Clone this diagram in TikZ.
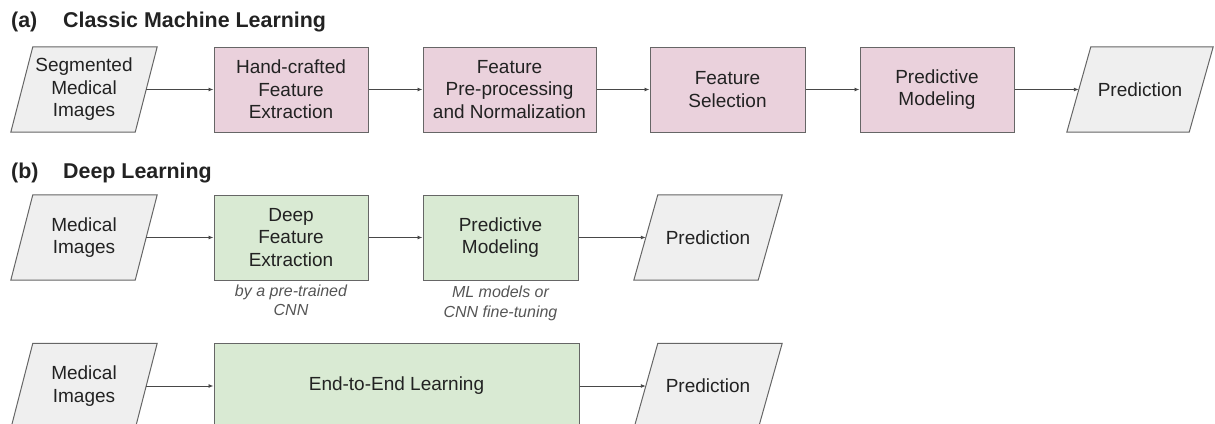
\documentclass[tikz,border=0pt]{standalone}
\usepackage{fontspec}
\setmainfont{Liberation Sans}
\usetikzlibrary{arrows.meta,calc,backgrounds}
\definecolor{pinkfill}{HTML}{EAD1DC}
\definecolor{greenfill}{HTML}{D9EAD3}
\definecolor{grayfill}{HTML}{EFEFEF}
\definecolor{edge}{HTML}{666666}
\definecolor{txt}{HTML}{222222}
\definecolor{captxt}{HTML}{555555}
\begin{document}
\begin{tikzpicture}[x=1pt,y=-1pt,
  boxtext/.style={text=txt,align=center,font=\fontsize{19}{22.5}\selectfont},
  procbox/.style={boxtext,draw=edge,line width=1pt,minimum height=85,inner sep=0pt},
  pinkbox/.style={procbox,fill=pinkfill},
  greenbox/.style={procbox,fill=greenfill},
  databox/.style={boxtext,minimum width=124,minimum height=85,inner sep=0pt},
  paraline/.style={draw=edge,line width=1pt,fill=grayfill,line join=miter},
  flow/.style={draw=black!72,line width=0.9pt,-{Latex[length=5pt,width=4pt]}},
  caption/.style={text=captxt,align=center,font=\fontsize{16}{19.5}\selectfont\itshape},
  title/.style={text=txt,anchor=west,inner sep=0pt,font=\fontsize{21.4}{25}\selectfont\bfseries}]
\useasboundingbox (0,0) rectangle (1215,423);
\clip (0,0) rectangle (1215,423);
% titles
\node[title] (ta) at (11,22) {(a)};
\node[title] (tan) at (63,22) {Classic Machine Learning};
\node[title] (tb) at (11,173) {(b)};
\node[title] (tbn) at (63,173) {Deep Learning};
% row a
\node[databox] (a0) at (84,89.5) {Segmented\\Medical\\Images};
\node[pinkbox,minimum width=154] (a1) at (291,89.5) {Hand-crafted\\Feature\\Extraction};
\node[pinkbox,minimum width=173] (a2) at (509.5,89.5) {Feature\\Pre-processing\\and Normalization};
\node[pinkbox,minimum width=155] (a3) at (727.5,89.5) {Feature\\Selection};
\node[pinkbox,minimum width=154] (a4) at (937,89.5) {Predictive\\Modeling};
\node[databox,minimum width=122] (a5) at (1140,89.5) {Prediction};
\draw[flow] (a0) -- (a1);
\draw[flow] (a1) -- (a2);
\draw[flow] (a2) -- (a3);
\draw[flow] (a3) -- (a4);
\draw[flow] (a4) -- (a5);
% row b1
\node[databox] (b0) at (84,237.5) {Medical\\Images};
\node[greenbox,minimum width=154] (b1) at (291,237.5) {Deep\\Feature\\Extraction};
\node[greenbox,minimum width=155] (b2) at (500.5,237.5) {Predictive\\Modeling};
\node[databox] (b3) at (708,237.5) {Prediction};
\draw[flow] (b0) -- (b1);
\draw[flow] (b1) -- (b2);
\draw[flow] (b2) -- (b3);
\node[caption] (c1) at ($(b1.south)+(0,20)$) {by a pre-trained\\CNN};
\node[caption] (c2) at ($(b2.south)+(0,23)$) {ML models or\\CNN fine-tuning};
% row b2
\node[databox] (d0) at (84,386) {Medical\\Images};
\node[greenbox,minimum width=365] (d1) at (396.5,386) {End-to-End Learning};
\node[databox] (d2) at (708,386) {Prediction};
\draw[flow] (d0) -- (d1);
\draw[flow] (d1) -- (d2);
% parallelogram outlines of the data nodes
\begin{scope}[on background layer]
\foreach \n/\s in {a0/11,a5/12,b0/11,b3/12,d0/11,d2/12}
  \path[paraline] ($(\n.north west)+(\s,0)$) -- ($(\n.north east)+(\s,0)$)
    -- ($(\n.south east)+(-\s,0)$) -- ($(\n.south west)+(-\s,0)$) -- cycle;
\end{scope}
\end{tikzpicture}
\end{document}
